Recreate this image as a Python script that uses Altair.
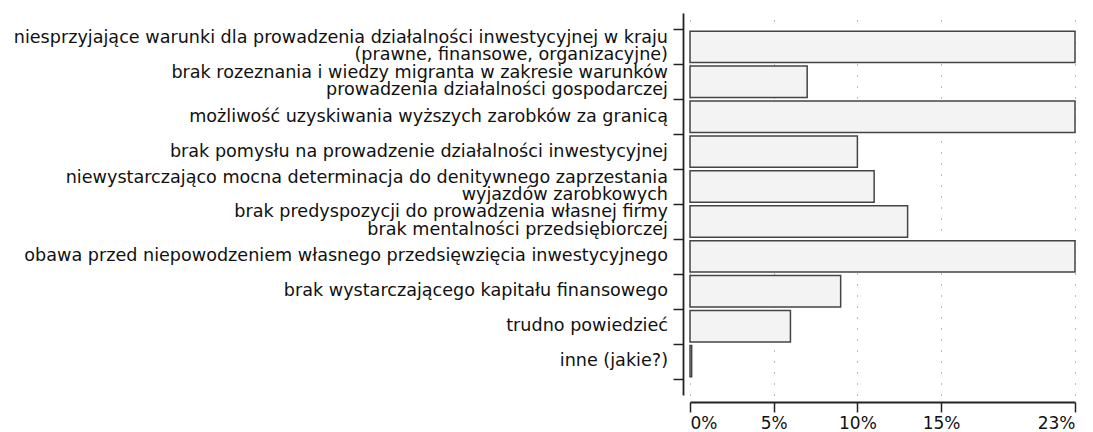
import altair as alt
import pandas as pd

categories = [
    "niesprzyjające warunki dla prowadzenia działalności inwestycyjnej w kraju|(prawne, finansowe, organizacyjne)",
    "brak rozeznania i wiedzy migranta w zakresie warunków|prowadzenia działalności gospodarczej",
    "możliwość uzyskiwania wyższych zarobków za granicą",
    "brak pomysłu na prowadzenie działalności inwestycyjnej",
    "niewystarczająco mocna determinacja do denitywnego zaprzestania|wyjazdów zarobkowych",
    "brak predyspozycji do prowadzenia własnej firmy|brak mentalności przedsiębiorczej",
    "obawa przed niepowodzeniem własnego przedsięwzięcia inwestycyjnego",
    "brak wystarczającego kapitału finansowego",
    "trudno powiedzieć",
    "inne (jakie?)",
]
values = [23, 7, 23, 10, 11, 13, 23, 9, 6, 0.1]
tick_values = [0, 5, 10, 15, 23]

df = pd.DataFrame({
    "cat": categories,
    "val": values,
    "nlines": [len(c.split("|")) for c in categories],
})

FONT = "DejaVu Sans"
FS = 17.6

base = alt.Chart(df)

y_enc = alt.Y(
    "cat:N",
    sort=None,
    title=None,
    scale=alt.Scale(domain=categories, paddingInner=0, paddingOuter=0.47),
    axis=alt.Axis(
        labels=False,
        tickBand="extent",
        tickSize=10,
        tickColor="#222",
        tickWidth=1.5,
        domainColor="#222",
        domainWidth=1.8,
        offset=7,
        grid=False,
    ),
)

bars = base.mark_bar(
    fill="#f2f3f2",
    stroke="#444444",
    strokeWidth=1.5,
    height=alt.RelativeBandSize(band=0.9),
).encode(
    y=y_enc,
    x=alt.X(
        "val:Q",
        title=None,
        scale=alt.Scale(domain=[0, 23], nice=False),
        axis=alt.Axis(
            values=tick_values,
            labelExpr="datum.value + '%'",
            labelFontSize=17,
            labelFont=FONT,
            labelColor="#111",
            labelPadding=3,
            tickSize=10,
            tickColor="#222",
            tickWidth=1.5,
            domainColor="#222",
            domainWidth=1.8,
            offset=7,
            grid=True,
            gridColor="#777",
            gridDash=[1, 10],
            gridWidth=1,
        ),
    ),
)

single = base.transform_filter(alt.datum.nlines == 1).mark_text(
    align="right", baseline="middle", font=FONT, fontSize=FS, color="#111"
).encode(
    y=alt.Y("cat:N", sort=None),
    x=alt.value(-22),
    text="cat:N",
)

multi = base.transform_filter(alt.datum.nlines == 2).mark_text(
    align="right", baseline="middle", font=FONT, fontSize=FS, color="#111",
    lineBreak="|", lineHeight=17.5, dy=-9,
).encode(
    y=alt.Y("cat:N", sort=None),
    x=alt.value(-22),
    text="cat:N",
)

chart = (
    alt.layer(bars, single, multi)
    .properties(
        width=385,
        height=382,
        autosize=alt.AutoSizeParams(type="none"),
        padding={"left": 682, "top": 5, "right": 10, "bottom": 40},
    )
    .configure_view(stroke=None)
)

chart.save("out.html", embed_options={"renderer": "svg", "actions": False})
